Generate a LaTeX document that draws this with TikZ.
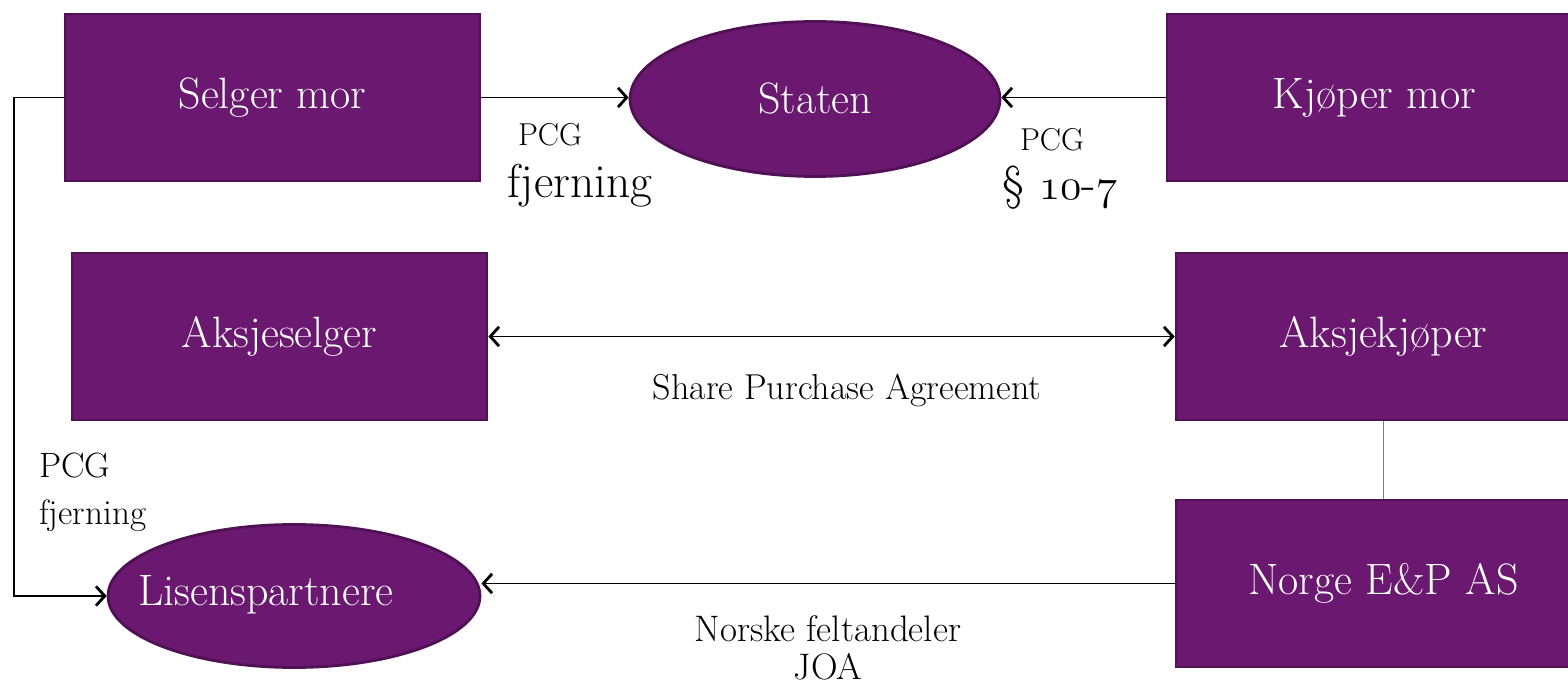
\documentclass[tikz,border=0pt]{standalone}
\usepackage{fontspec}
\usepackage{tikz}
\usetikzlibrary{shapes.geometric, arrows.meta}

\definecolor{lilla}{RGB}{106,24,112}
\definecolor{lillakant}{RGB}{80,16,84}

% gammeldagse sifre fra lm-kursiv
\newcommand{\gammeltall}[1]{{\usefont{OML}{lmm}{m}{it}#1}}

\tikzset{
    firma/.style={rectangle, fill=lilla, draw=lillakant, line width=1.6pt, text=white,
        minimum width=8.3cm, minimum height=3.34cm, font=\fontsize{25}{29}\selectfont},
    part/.style={ellipse, fill=lilla, draw=lillakant, line width=1.6pt, text=white,
        inner sep=0pt, font=\fontsize{25}{29}\selectfont},
    pil/.style={line width=0.8pt, -{Straight Barb[length=5pt, width=11pt, line width=1.6pt]}},
    dobbelpil/.style={line width=0.8pt, {Straight Barb[length=5pt, width=11pt, line width=1.6pt]}-{Straight Barb[length=5pt, width=11pt, line width=1.6pt]}},
    tekst/.style={font=\fontsize{18}{21}\selectfont}
}

\begin{document}
\begin{tikzpicture}[x=0.02cm, y=-0.02cm]
    \useasboundingbox (0,0) rectangle (1568,688);
    \clip (0,0) rectangle (1568,688);
    \def \venstre {14}

    \node[firma] (selgermor) at (272.5,97.5) {Selger mor};
    \node[firma] (kjopermor) at (1374.5,97.5) {Kjøper mor};
    \node[part, minimum width=7.4cm, minimum height=3.1cm] (staten) at (815,99) {Staten};
    \node[firma] (aksjeselger) at (279.5,336.5) {Aksjeselger};
    \node[firma] (aksjekjoper) at (1383.5,336.5) {Aksjekjøper};
    \node[firma] (norge) at (1383.5,583.5) {Norge E\&P AS};
    \node[part, minimum width=7.44cm, minimum height=2.86cm] (lisens) at (294,596)
        {\raisebox{6pt}{\makebox[0pt]{\kern-32pt Lisenspartnere}}};

    \draw[pil] (selgermor.east) -- (selgermor.east -| staten.west);
    \draw[pil] (kjopermor.west) -- (kjopermor.west -| staten.east);
    \draw[dobbelpil] (aksjeselger.east) -- (aksjekjoper.west);
    \draw[gray, line width=0.8pt] (aksjekjoper.south) -- (norge.north);
    \draw[pil] (norge.west) -- (norge.west -| lisens.east);
    \draw[pil] (selgermor.west) -- (\venstre,97.5) |- (lisens.west);

    \node[tekst] (pcg1) at (550,135) {PCG};
    \node[font=\fontsize{27}{31}\selectfont] (fjern1) at (580,186) {fjerning};
    \node[tekst] (pcg2) at (1052,140) {PCG};
    \node[font=\fontsize{27}{31}\selectfont] (para) at (1060,188) {§ \gammeltall{10}-\gammeltall{7}};
    \node[font=\fontsize{20.5}{24}\selectfont] (spa) at (847,390) {Share Purchase Agreement};
    \node[font=\fontsize{20}{24}\selectfont, anchor=west] (pcg3) at (33,466) {PCG};
    \node[font=\fontsize{20}{24}\selectfont, anchor=west] (fjern3) at (33,516) {fjerning};
    \node[align=center, font=\fontsize{21}{21.5}\selectfont, inner sep=0pt] (joa) at (828,648) {Norske feltandeler\\JOA};
\end{tikzpicture}
\end{document}
